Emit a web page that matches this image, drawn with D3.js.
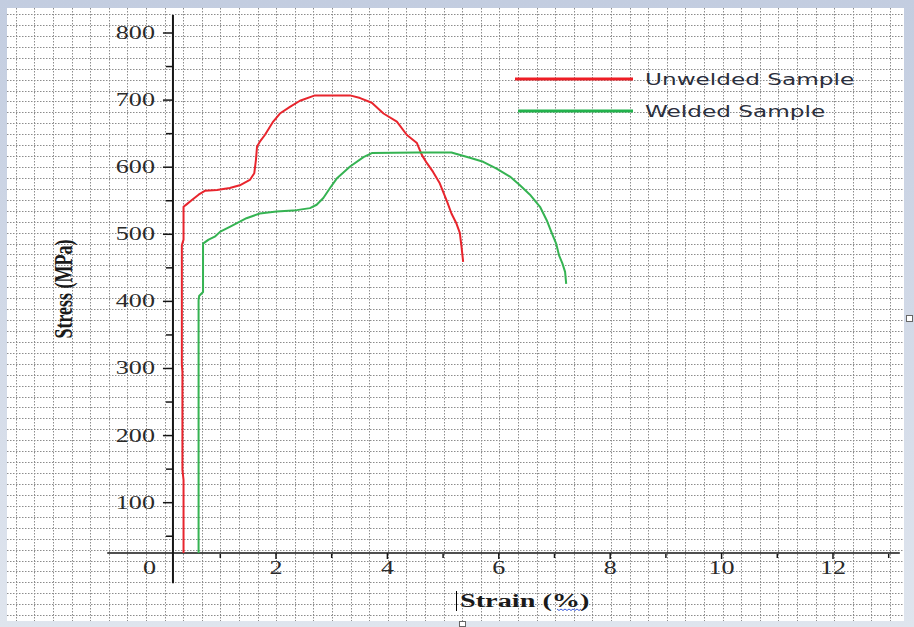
<!DOCTYPE html>
<html>
<head>
<meta charset="utf-8">
<script src="https://cdn.jsdelivr.net/npm/d3@7"></script>
<style>
  body { margin: 0; background: #fff; }
  svg { display: block; }
</style>
</head>
<body>
<div id="container"></div>
<script>
// Stress vs strain curves

// Unwelded sample
let unweldedStrain = [0.34, 0.34, 0.32, 0.32, 0.31, 0.31, 0.34, 0.34, 0.40, 0.49, 0.61, 0.73, 0.94, 1.17, 1.35,
  1.53, 1.61, 1.64, 1.66, 1.71, 1.80, 1.95, 2.07, 2.25, 2.43, 2.70, 3.33, 3.51, 3.72, 3.93,
  4.17, 4.35, 4.53, 4.62, 4.71, 4.82, 4.94, 5.07, 5.15, 5.24, 5.30, 5.33, 5.36];
let unweldedStress = [25, 134, 149, 295, 305, 484, 492, 541, 545, 551, 559, 565, 566, 569, 573,
  581, 591, 611, 631, 638, 648, 668, 680, 690, 699, 707, 707, 703, 696, 680,
  668, 648, 636, 618, 606, 593, 576, 549, 531, 516, 502, 482, 459];

// Welded sample
let weldedStrain = [0.61, 0.61, 0.62, 0.69, 0.69, 0.79, 0.91, 1.00, 1.17, 1.47, 1.71, 2.01, 2.37, 2.61, 2.73,
  2.85, 2.97, 3.09, 3.33, 3.57, 3.72, 4.53, 5.15, 5.48, 5.72, 5.96, 6.20, 6.38, 6.56, 6.74,
  6.86, 6.95, 7.03, 7.08, 7.14, 7.19, 7.21];
let weldedStress = [25, 402, 408, 414, 486, 492, 497, 504, 511, 524, 531, 534, 536, 539, 544,
  554, 569, 583, 601, 615, 621, 622, 622, 614, 608, 598, 586, 573, 559, 541,
  521, 502, 486, 469, 457, 444, 426];

let seriesNames = ["Unwelded Sample", "Welded Sample"];
let seriesColors = ["#e8252d", "#35b352"];

// Ticks
let xMajor = [2, 4, 6, 8, 10, 12];
let xMinor = [1, 3, 5, 7, 9, 11, 13];
let yMajor = [100, 200, 300, 400, 500, 600, 700, 800];
let yMinor = [50, 150, 250, 350, 450, 550, 650, 750];

//Width and height
let w = 914;
let h = 627;

// The source picture is stretched sideways, so the text is too
let stretch = 1.45;

let svg = d3.select("#container")
  .append("svg")
  .attr("width", w)
  .attr("height", h);

// Bluish frame round the page
let grad = svg.append("defs").append("linearGradient")
  .attr("id", "frame")
  .attr("x1", 0).attr("y1", 0).attr("x2", 0).attr("y2", 1);
grad.append("stop").attr("offset", "0%").attr("stop-color", "#c3cde0");
grad.append("stop").attr("offset", "100%").attr("stop-color", "#dfe5ee");

svg.append("rect")
  .attr("width", w).attr("height", h)
  .style("fill", "url(#frame)");

let page = { left: 7, top: 8, right: 904, bottom: 621 };

svg.append("rect")
  .attr("x", page.left).attr("y", page.top)
  .attr("width", page.right - page.left)
  .attr("height", page.bottom - page.top)
  .style("fill", "#fff");

// Graph paper background
let grid = svg.append("g")
  .style("stroke", "#8c8c8c")
  .style("stroke-width", 1)
  .style("stroke-dasharray", "1.5,1.5");

grid.selectAll("line.v")
  .data(d3.range(15.7, page.right, 18.6))
  .enter()
  .append("line")
  .attr("class", "v")
  .attr("x1", d => Math.round(d) + 0.5).attr("x2", d => Math.round(d) + 0.5)
  .attr("y1", page.top).attr("y2", page.bottom);

grid.selectAll("line.h")
  .data(d3.range(14, page.bottom, 10.93))
  .enter()
  .append("line")
  .attr("class", "h")
  .attr("x1", page.left).attr("x2", page.right)
  .attr("y1", d => Math.round(d) + 0.5).attr("y2", d => Math.round(d) + 0.5);

// Scales
let x = d3.scaleLinear().domain([0, 13]).range([164.6, 888.7]);
let y = d3.scaleLinear().domain([25, 800]).range([553, 33]);

let yAxisAt = 0.15;  // strain where the stress axis sits
let xAxisAt = 25;    // stress where the strain axis sits

let axisColor = "#151515";
let serif = "'Liberation Serif', 'Times New Roman', serif";

// Stress axis
let yAxisG = svg.append("g");
yAxisG.append("line")
  .attr("x1", x(yAxisAt)).attr("x2", x(yAxisAt))
  .attr("y1", y(827)).attr("y2", y(-20))
  .style("stroke", axisColor)
  .style("stroke-width", 2);

yAxisG.selectAll("line.major")
  .data(yMajor)
  .enter()
  .append("line")
  .attr("class", "major")
  .attr("x1", x(yAxisAt) - 10).attr("x2", x(yAxisAt))
  .attr("y1", d => y(d)).attr("y2", d => y(d))
  .style("stroke", axisColor)
  .style("stroke-width", 1.5);

yAxisG.selectAll("line.minor")
  .data(yMinor)
  .enter()
  .append("line")
  .attr("class", "minor")
  .attr("x1", x(yAxisAt) - 7).attr("x2", x(yAxisAt))
  .attr("y1", d => y(d)).attr("y2", d => y(d))
  .style("stroke", axisColor)
  .style("stroke-width", 1.5);

yAxisG.selectAll("text")
  .data(yMajor)
  .enter()
  .append("text")
  .attr("transform", d => "translate(" + (x(yAxisAt) - 18) + "," + (y(d) + 6) + ") scale(" + stretch + ",1)")
  .attr("text-anchor", "end")
  .style("font-family", serif)
  .style("font-size", "18px")
  .style("fill", "#2a2a2a")
  .text(d => d);

// Strain axis
let xAxisG = svg.append("g");
xAxisG.append("line")
  .attr("x1", x(-1.03)).attr("x2", x(13.2))
  .attr("y1", y(xAxisAt)).attr("y2", y(xAxisAt))
  .style("stroke", axisColor)
  .style("stroke-width", 1.5);

xAxisG.selectAll("line.major")
  .data(xMajor)
  .enter()
  .append("line")
  .attr("class", "major")
  .attr("x1", d => x(d)).attr("x2", d => x(d))
  .attr("y1", y(xAxisAt)).attr("y2", y(xAxisAt) + 6)
  .style("stroke", axisColor)
  .style("stroke-width", 1.5);

xAxisG.selectAll("line.minor")
  .data(xMinor)
  .enter()
  .append("line")
  .attr("class", "minor")
  .attr("x1", d => x(d)).attr("x2", d => x(d))
  .attr("y1", y(xAxisAt) + 1).attr("y2", y(xAxisAt) + 5)
  .style("stroke", axisColor)
  .style("stroke-width", 1.5);

xAxisG.selectAll("text")
  .data(xMajor)
  .enter()
  .append("text")
  .attr("transform", d => "translate(" + x(d) + "," + (y(xAxisAt) + 21) + ") scale(" + stretch + ",1)")
  .attr("text-anchor", "middle")
  .style("font-family", serif)
  .style("font-size", "18px")
  .style("fill", "#2a2a2a")
  .text(d => d);

// origin label sits left of the stress axis
xAxisG.append("text")
  .attr("transform", "translate(" + (x(0) - 15) + "," + (y(xAxisAt) + 21) + ") scale(" + stretch + ",1)")
  .attr("text-anchor", "middle")
  .style("font-family", serif)
  .style("font-size", "18px")
  .style("fill", "#2a2a2a")
  .text("0");

// Axis titles
svg.append("text")
  .attr("transform", "translate(72,289) scale(" + stretch + ",1) rotate(-90)")
  .attr("text-anchor", "middle")
  .style("font-family", serif)
  .style("font-size", "18px")
  .style("font-weight", "bold")
  .style("fill", "#1a1a1a")
  .text("Stress (MPa)");

svg.append("text")
  .attr("transform", "translate(460,607) scale(" + stretch + ",1)")
  .style("font-family", serif)
  .style("font-size", "19.5px")
  .style("font-weight", "bold")
  .style("fill", "#1a1a1a")
  .text("Strain (%)");

// text cursor and spell check squiggle left in the screenshot
svg.append("line")
  .attr("x1", 456.5).attr("x2", 456.5)
  .attr("y1", 591).attr("y2", 611)
  .style("stroke", "#000")
  .style("stroke-width", 1);

svg.append("path")
  .attr("d", d3.line()(d3.range(557, 582, 2).map((px, i) => [px, 609 + (i % 2) * 1.5])))
  .style("fill", "none")
  .style("stroke", "#3b5bdb")
  .style("stroke-width", 1);

// Curves
let line = d3.line()
  .x(d => x(d[0]))
  .y(d => y(d[1]));

let curves = [
  d3.zip(unweldedStrain, unweldedStress),
  d3.zip(weldedStrain, weldedStress)
];

svg.selectAll("path.curve")
  .data(curves)
  .enter()
  .append("path")
  .attr("class", "curve")
  .attr("d", line)
  .style("fill", "none")
  .style("stroke", (d, i) => seriesColors[i])
  .style("stroke-width", 2)
  .style("stroke-linejoin", "round");

// Legend
let legendRows = [
  { x1: 515, x2: 633, y: 79 },
  { x1: 518, x2: 633, y: 111 }
];

let legend = svg.selectAll("g.legend")
  .data(seriesNames)
  .enter()
  .append("g")
  .attr("class", "legend");

legend.append("line")
  .attr("x1", (d, i) => legendRows[i].x1)
  .attr("x2", (d, i) => legendRows[i].x2)
  .attr("y1", (d, i) => legendRows[i].y)
  .attr("y2", (d, i) => legendRows[i].y)
  .style("stroke", (d, i) => i == 0 ? "#ee1d25" : "#22b24c")
  .style("stroke-width", 3);

legend.append("text")
  .attr("transform", (d, i) => "translate(" + (legendRows[i].x2 + 12) + "," + (legendRows[i].y + 6) + ") scale(" + stretch + ",1)")
  .style("font-family", "'DejaVu Sans', Verdana, sans-serif")
  .style("font-size", "16px")
  .style("fill", "#2b2f3c")
  .text(d => d);

// Word's resize handles at the frame edges
svg.append("rect")
  .attr("x", 906.5).attr("y", 315.5).attr("width", 6).attr("height", 6)
  .style("fill", "#fff").style("stroke", "#666");
svg.append("rect")
  .attr("x", 459.5).attr("y", 621.5).attr("width", 6).attr("height", 5)
  .style("fill", "#fff").style("stroke", "#666");
</script>
</body>
</html>
